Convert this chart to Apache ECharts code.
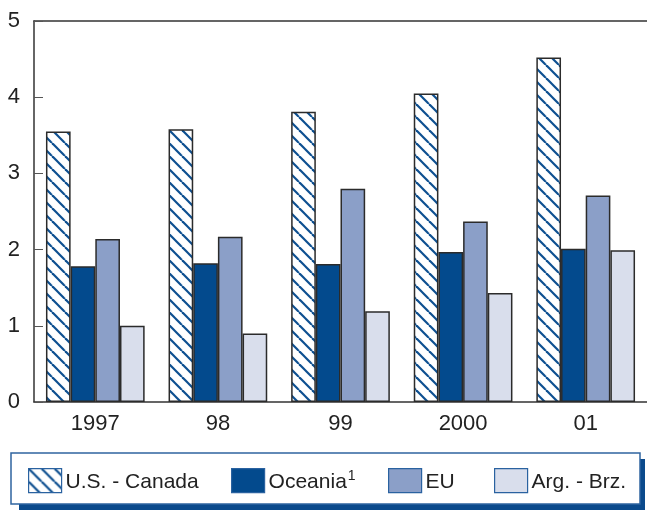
<!DOCTYPE html>
<html>
<head>
<meta charset="utf-8">
<script src="https://cdn.jsdelivr.net/npm/echarts@6/dist/echarts.min.js"></script>
<style>
html,body{margin:0;padding:0;background:#fff;}
#chart{width:647px;height:510px;}
</style>
</head>
<body>
<div id="chart"></div>
<script>
// ---- data ----
var categories = ['1997', '98', '99', '2000', '01'];
var seriesNames = ['U.S. - Canada', 'Oceania', 'EU', 'Arg. - Brz.'];
var footnoteMark = '1';
var usCanada = [3.55, 3.58, 3.81, 4.05, 4.52];
var oceania = [1.78, 1.82, 1.81, 1.97, 2.01];
var eu = [2.14, 2.17, 2.80, 2.37, 2.71];
var argBrz = [1.00, 0.90, 1.19, 1.43, 1.99];
var yMin = 0, yMax = 5, yInterval = 1;

// ---- hatch pattern ----
function makeHatch() {
  var s = 13;
  var c = document.createElement('canvas');
  c.width = s; c.height = s;
  var ctx = c.getContext('2d');
  ctx.fillStyle = '#ffffff';
  ctx.fillRect(0, 0, s, s);
  ctx.strokeStyle = '#0d4f90';
  ctx.lineWidth = 2.2;
  for (var k = -1; k <= 1; k++) {
    ctx.beginPath();
    ctx.moveTo(k * s, 0);
    ctx.lineTo(k * s + s, s);
    ctx.stroke();
  }
  return c;
}
var hatch = { image: makeHatch(), repeat: 'repeat' };

var fills = [hatch, '#034a8d', '#8b9fc8', '#d9deec'];
var values = [usCanada, oceania, eu, argBrz];
var font = "'Liberation Sans', Arial, sans-serif";

var chart = echarts.init(document.getElementById('chart'), null, {renderer: 'canvas'});

var series = values.map(function (v, i) {
  return {
    name: seriesNames[i],
    type: 'bar',
    data: v,
    barGap: '0%',
    barCategoryGap: '19.5%',
    itemStyle: { color: fills[i], borderColor: '#2b2b2b', borderWidth: 1.5 },
    emphasis: { disabled: true },
    animation: false
  };
});

var legendLefts = [28, 231, 388, 494];
var legends = seriesNames.map(function (n, i) {
  return {
    data: [n],
    left: legendLefts[i],
    top: 468,
    itemWidth: 33,
    itemHeight: 24,
    itemGap: 0,
    padding: 0,
    selectedMode: false,
    icon: 'rect',
    itemStyle: { borderColor: '#2a62a0', borderWidth: 1.2 },
    formatter: function (name) {
      return name === 'Oceania' ? '{a|' + name + '}{s|' + footnoteMark + '}' : '{a|' + name + '}';
    },
    textStyle: {
      fontFamily: font, fontSize: 21, color: '#222', padding: [0, 0, 0, -1],
      rich: {
        a: { fontFamily: font, fontSize: 21, lineHeight: 24, color: '#222', verticalAlign: 'bottom' },
        s: { fontFamily: font, fontSize: 14, color: '#222', verticalAlign: 'bottom', padding: [0, 0, 9, 1] }
      }
    }
  };
});

chart.setOption({
  backgroundColor: '#ffffff',
  animation: false,
  grid: { left: 34, top: 21, width: 615, height: 381 },
  graphic: [
    { type: 'rect', z: -1, shape: { x: 19, y: 459, width: 626, height: 51 }, style: { fill: '#0b4a8c' } },
    { type: 'rect', z: 0, shape: { x: 11, y: 453, width: 629, height: 51 }, style: { fill: '#ffffff', stroke: '#2f64a0', lineWidth: 1.5 } }
  ],
  legend: legends,
  xAxis: [{
    type: 'category',
    data: categories,
    position: 'bottom',
    axisLine: { lineStyle: { color: '#333', width: 1.5 } },
    axisTick: { alignWithLabel: true, length: 11, lineStyle: { color: '#333', width: 1 } },
    axisLabel: { fontFamily: font, fontSize: 22, color: '#222', margin: 11 }
  }, {
    type: 'category',
    data: categories,
    position: 'top',
    axisLine: { lineStyle: { color: '#333', width: 1.5 } },
    axisTick: { show: false },
    axisLabel: { show: false }
  }],
  yAxis: {
    type: 'value',
    min: yMin, max: yMax, interval: yInterval,
    axisLine: { show: true, lineStyle: { color: '#333', width: 1.5 } },
    axisTick: { show: true, inside: true, length: 9, lineStyle: { color: '#555', width: 1 } },
    splitLine: { show: false },
    axisLabel: { fontFamily: font, fontSize: 22, color: '#222', margin: 14 }
  },
  series: series
});
</script>
</body>
</html>
